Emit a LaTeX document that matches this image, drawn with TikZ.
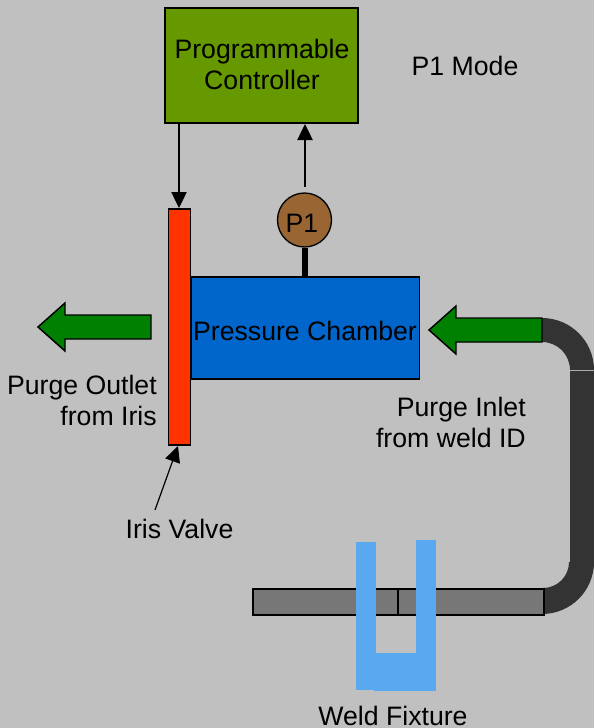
\documentclass[tikz,border=0pt]{standalone}
\usepackage{fontspec}
\setmainfont{Liberation Sans}
\usetikzlibrary{arrows.meta}
\definecolor{bgc}{HTML}{C0C0C0}
\definecolor{ctrlc}{HTML}{669900}
\definecolor{chamc}{HTML}{0066CC}
\definecolor{valvec}{HTML}{FF3300}
\definecolor{gaugec}{HTML}{996633}
\definecolor{flowc}{HTML}{008000}
\definecolor{pipec}{HTML}{333333}
\definecolor{barc}{HTML}{777777}
\definecolor{fixc}{HTML}{5AA8F0}
\begin{document}
\begin{tikzpicture}[x=0.75pt,y=-0.75pt,
  txt/.style={font=\fontsize{20}{23.25}\selectfont,text=black,inner sep=0pt,align=center},
  plain/.style={font=\fontsize{20}{23.25}\selectfont,text=black,inner sep=0pt,anchor=base},
  boxn/.style={draw=black,line width=1.1pt,inner sep=0pt,outer sep=0pt,anchor=north west},
  sig/.style={draw=black,line width=0.9pt,-{Triangle[length=12pt,width=11.5pt]}},
  flow/.style={fill=flowc,draw=black,line width=1.1pt,line join=miter},
  bar/.style={fill=barc,draw=black,line width=1pt},
  fix/.style={fill=fixc,draw=none}]
\useasboundingbox (0,0) rectangle (594,728);
\fill[bgc] (0,0) rectangle (594,728);
% pipe
\fill[pipec] (542,318) arc[start angle=-90,end angle=0,radius=52] -- (570,370) arc[start angle=0,end angle=-90,radius=28] -- cycle;
\fill[pipec] (570,371) rectangle (594,562);
\fill[pipec] (594,562) arc[start angle=0,end angle=90,radius=52] -- (543,588) arc[start angle=90,end angle=0,radius=26] -- cycle;
% bars
\draw[bar] (253,589) rectangle (398,615);
\draw[bar] (398,589) rectangle (544,615);
% fixture
\fill[fix] (356,542) rectangle (376,690);
\fill[fix] (416,540) rectangle (436,691);
\fill[fix] (374,653) rectangle (436,691);
% flows
\draw[flow] (542,318) -- (456,318) -- (456,306) -- (429,330) -- (456,354) -- (456,342) -- (542,342) -- cycle;
\draw[flow] (151,315) -- (65,315) -- (65,303) -- (38,327) -- (65,351) -- (65,339) -- (151,339) -- cycle;
% boxes
\node[boxn,fill=ctrlc,minimum width=193*0.75pt,minimum height=115*0.75pt] (ctrl) at (165,8) {};
\node[txt] (ctrltext) at (262,64.5) {Programmable\\Controller};
\node[boxn,fill=chamc,minimum width=228*0.75pt,minimum height=102*0.75pt] (chamber) at (191.5,277) {};
\node[txt] (chambertext) at (305,331) {Pressure Chamber};
\node[boxn,fill=valvec,minimum width=22*0.75pt,minimum height=236*0.75pt] (valve) at (168.5,209) {};
\node[circle,draw=black,line width=1pt,fill=gaugec,minimum size=54*0.75pt,inner sep=0pt] (gauge) at (304.5,220) {};
\node[txt] (gaugetext) at (302,223) {P1};
% stem
\draw[line width=4.5pt,xshift=-1.1pt] (gauge.south) -- (chamber.north -| gauge.south);
% signal lines
\coordinate (c1) at (179,123);
\coordinate (v1) at (179,208);
\coordinate (g1) at (305,187);
\coordinate (c2) at (305,124);
\coordinate (iv) at (155,510);
\coordinate (v2) at (178,446);
\draw[sig] (c1) -- (v1);
\draw[sig] (g1) -- (c2);
\draw[sig] (iv) -- (v2);
% labels
\node[txt] (mode) at (465,66) {P1 Mode};
\node[txt,align=right,anchor=east] (outlet) at (157,400) {Purge Outlet\\from Iris};
\node[txt,align=right,anchor=east] (inlet) at (526,422) {Purge Inlet\\from weld ID};
\node[txt] (ivl) at (179.5,529) {Iris Valve};
\node[plain] (wf) at (393,725) {Weld Fixture};
\end{tikzpicture}
\end{document}
